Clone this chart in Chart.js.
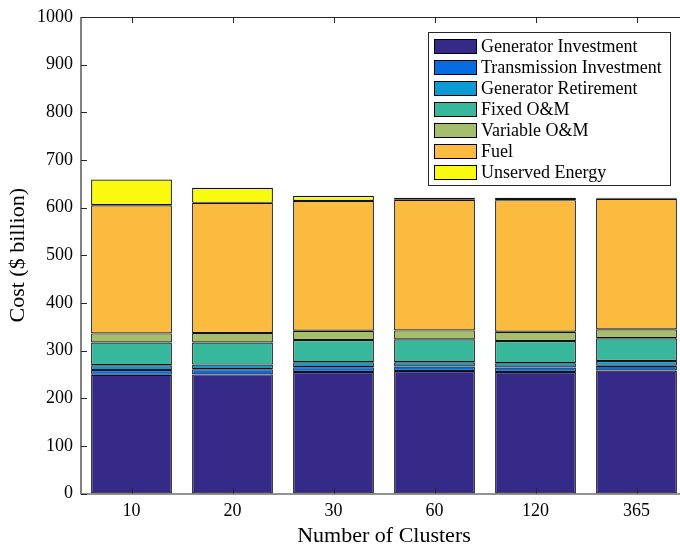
<!DOCTYPE html>
<html>
<head>
<meta charset="utf-8">
<script src="https://cdn.jsdelivr.net/npm/chart.js@4"></script>
<style>
html,body{margin:0;padding:0;background:#fff;overflow:hidden;width:680px;height:548px;}
#wrap{width:690px;height:548px;}
</style>
</head>
<body>
<div id="wrap"><canvas id="c" width="690" height="548"></canvas></div>
<script>
const categories = ['10', '20', '30', '60', '120', '365'];
const generatorInvestment = [249, 250, 255, 257, 255, 258];
const transmissionInvestment = [10, 11, 10, 9.5, 9.5, 10];
const generatorRetirement = [10, 9.5, 10.5, 9, 9, 10];
const fixedOM = [48, 46.5, 46.5, 48, 46.5, 47.7];
const variableOM = [19, 20, 19.7, 18.8, 19.6, 18.8];
const fuel = [269, 273, 272.3, 274, 276, 274];
const unservedEnergy = [54, 31.6, 11, 4.5, 5.2, 2.4];
const seriesNames = ['Generator Investment', 'Transmission Investment', 'Generator Retirement', 'Fixed O&M', 'Variable O&M', 'Fuel', 'Unserved Energy'];
const seriesColors = ['#352a87', '#056de0', '#0b9ad4', '#37b89d', '#a5be6b', '#fbbb3e', '#f9fa0e'];
const yTicks = [0, 100, 200, 300, 400, 500, 600, 700, 800, 900, 1000];

const seriesValues = [generatorInvestment, transmissionInvestment, generatorRetirement, fixedOM, variableOM, fuel, unservedEnergy];
const SERIF = '"Liberation Serif", "DejaVu Serif", serif';

const frame = {
  id: 'frame',
  afterDraw(chart) {
    const ctx = chart.ctx;
    const a = chart.chartArea;
    const xs = chart.scales.x, ys = chart.scales.y;
    ctx.save();
    ctx.strokeStyle = '#262626';
    ctx.lineWidth = 1;
    ctx.beginPath();
    ctx.moveTo(a.left, a.top + 0.5); ctx.lineTo(a.right, a.top + 0.5);
    ctx.moveTo(a.left, a.bottom + 0.5); ctx.lineTo(a.right, a.bottom + 0.5);
    ctx.moveTo(a.right - 0.5, a.top); ctx.lineTo(a.right - 0.5, a.bottom);
    ctx.stroke();
    ctx.strokeStyle = '#808080';
    ctx.lineWidth = 2;
    ctx.beginPath();
    ctx.moveTo(a.left, a.top); ctx.lineTo(a.left, a.bottom + 1);
    ctx.stroke();
    ctx.strokeStyle = '#262626';
    ctx.lineWidth = 1;
    ctx.beginPath();
    ys.ticks.forEach(t => {
      const y = Math.round(ys.getPixelForValue(t.value)) + 0.5;
      ctx.moveTo(a.left, y); ctx.lineTo(a.left + 6, y);
      ctx.moveTo(a.right, y); ctx.lineTo(a.right - 6, y);
    });
    xs.ticks.forEach((t, i) => {
      const x = Math.round(xs.getPixelForTick(i)) + 0.5;
      ctx.moveTo(x, a.bottom); ctx.lineTo(x, a.bottom - 6);
      ctx.moveTo(x, a.top); ctx.lineTo(x, a.top + 6);
    });
    ctx.stroke();
    const lx = 428.5, ly = 32.5, lw = 242, lh = 153;
    ctx.fillStyle = '#fff';
    ctx.fillRect(lx, ly, lw, lh);
    ctx.strokeStyle = '#262626';
    ctx.strokeRect(lx, ly, lw, lh);
    ctx.font = '18px ' + SERIF;
    ctx.textBaseline = 'middle';
    ctx.textAlign = 'left';
    chart.data.datasets.forEach((ds, i) => {
      const cy = 46 + i * 21;
      ctx.fillStyle = ds.backgroundColor;
      ctx.fillRect(434.5, cy - 7 + 0.5, 42, 14);
      ctx.strokeStyle = '#000';
      ctx.strokeRect(434.5, cy - 7 + 0.5, 42, 14);
      ctx.fillStyle = '#000';
      ctx.fillText(ds.label, 481, cy + 1);
    });
    ctx.restore();
  }
};

new Chart(document.getElementById('c'), {
  type: 'bar',
  data: {
    labels: categories,
    datasets: seriesNames.map((n, i) => ({
      label: n,
      data: seriesValues[i],
      backgroundColor: seriesColors[i],
      borderColor: '#111',
      borderWidth: 1.2,
      borderSkipped: false,
      categoryPercentage: 1.0,
      barPercentage: 0.8
    }))
  },
  options: {
    responsive: false,
    animation: false,
    layout: { padding: { top: 14, right: 3, left: 0, bottom: 0 } },
    plugins: { legend: { display: false }, tooltip: { enabled: false } },
    scales: {
      x: {
        stacked: true,
        grid: { display: false, drawTicks: false },
        border: { display: false },
        ticks: { color: '#000', font: { family: SERIF, size: 18 }, padding: 7, maxRotation: 0 },
        title: { display: true, text: 'Number of Clusters', color: '#000', font: { family: SERIF, size: 22, lineHeight: 1 }, padding: { top: 0, bottom: 1 } },
        afterFit(s) { s.height = 54.5; }
      },
      y: {
        stacked: true,
        min: 0, max: 1000,
        afterBuildTicks(s) { s.ticks = yTicks.map(v => ({ value: v })); },
        grid: { display: false, drawTicks: false },
        border: { display: false },
        ticks: { color: '#000', font: { family: SERIF, size: 18, lineHeight: 1 }, padding: 8, callback: v => String(v) },
        title: { display: true, text: 'Cost ($ billion)', color: '#000', font: { family: SERIF, size: 22, lineHeight: 1 }, padding: { top: 7, bottom: 0 } },
        afterFit(s) { s.width = 81; }
      }
    }
  },
  plugins: [frame]
});
</script>
</body>
</html>
